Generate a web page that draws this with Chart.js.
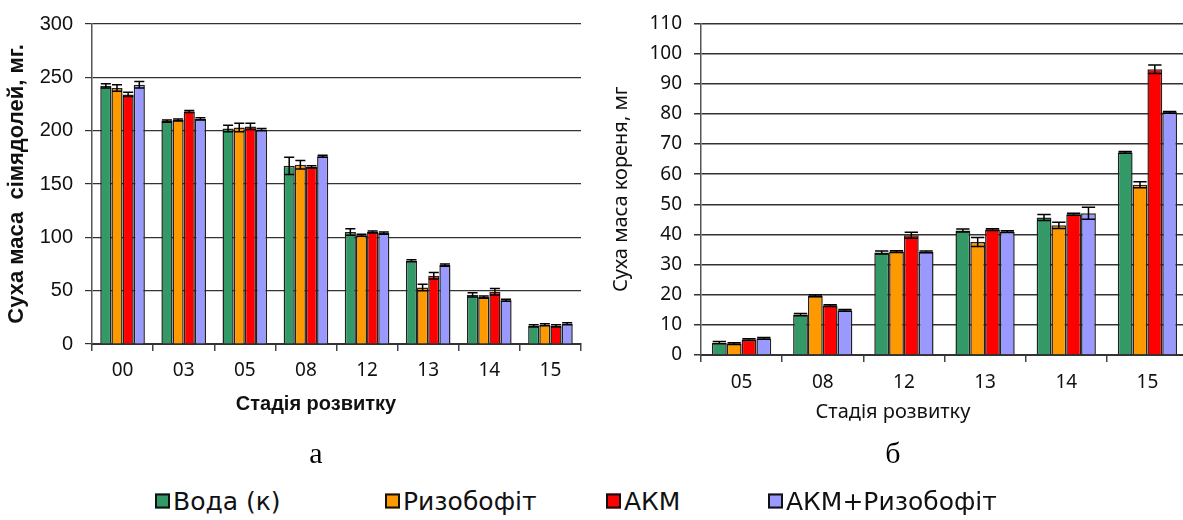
<!DOCTYPE html>
<html>
<head>
<meta charset="utf-8">
<script src="https://cdn.jsdelivr.net/npm/chart.js@4.4.0/dist/chart.umd.min.js"></script>
<style>
  html, body { margin: 0; padding: 0; background: #fff; overflow: hidden; }
  body { width: 1183px; height: 520px; position: relative; }
  #wrapA { position: absolute; left: 0; top: 0; width: 600px; height: 420px; }
  #wrapB { position: absolute; left: 600px; top: 0; width: 600px; height: 430px; }
  .lbl { position: absolute; color: #111; transform: translate(-50%, -50%); white-space: nowrap; line-height: 1; }
  .sub { font-family: "Liberation Serif", "DejaVu Serif", serif; font-size: 30px; color: #000; }
  #legend { position: absolute; top: 501px; left: 0; width: 1183px; font-family: "DejaVu Sans", sans-serif; font-size: 25px; color: #111; }
  .item { position: absolute; top: 0; display: flex; align-items: center; white-space: nowrap; transform: translateY(-50%); line-height: 1; }
  .sw { width: 11px; height: 11px; border: 2px solid #111; margin-right: 3px; }
</style>
</head>
<body>
<div id="wrapA"><canvas id="chartA"></canvas></div>
<div id="wrapB"><canvas id="chartB"></canvas></div>
<div class="lbl" style="left:316px; top:403px; font-family:'Liberation Sans',Arial,sans-serif; font-weight:bold; font-size:20px;">Стадія розвитку</div>
<div class="lbl" style="left:893px; top:411px; font-family:'Noto Sans',sans-serif; font-size:20px;">Стадія розвитку</div>
<div class="lbl sub" style="left:316px; top:453px;">а</div>
<div class="lbl sub" style="left:893px; top:453px;">б</div>
<div id="legend"></div>
<script>
// Series names and colours
const seriesNames = ["Вода (к)", "Ризобофіт", "АКМ", "АКМ+Ризобофіт"];
const seriesColors = ["#339966", "#FF9900", "#FF0000", "#9999FF"];

// Chart а: dry mass of cotyledons
const stagesA = ["00", "03", "05", "08", "12", "13", "14", "15"];
const vodaA   = [242, 209, 202, 167, 105, 78, 46, 17];
const rizoA   = [240, 210, 203, 168, 102, 53, 44, 18];
const akmA    = [234, 218, 204, 166, 105, 64, 49, 17];
const akmRizA = [243, 211, 201, 176, 104, 74, 41, 19];
const errVodaA   = [2, 1, 3, 8, 3, 1, 2, 1];
const errRizoA   = [3, 1, 4, 4, 1, 3, 1, 1];
const errAkmA    = [2, 1, 3, 1, 1, 3, 3, 1];
const errAkmRizA = [3, 1, 1, 1, 1, 1, 1, 1];
const ticksA = [0, 50, 100, 150, 200, 250, 300];

// Chart б: dry mass of root
const stagesB = ["05", "08", "12", "13", "14", "15"];
const vodaB   = [4.1, 13.4, 34.0, 41.3, 45.6, 67.2];
const rizoB   = [3.8, 19.6, 34.3, 37.5, 43.0, 56.5];
const akmB    = [5.1, 16.4, 39.7, 41.6, 46.7, 94.8];
const akmRizB = [5.5, 14.8, 34.2, 40.9, 47.0, 80.5];
const errVodaB   = [0.4, 0.4, 0.5, 0.5, 1.0, 0.3];
const errRizoB   = [0.3, 0.3, 0.3, 1.5, 1.0, 1.0];
const errAkmB    = [0.3, 0.3, 1.0, 0.3, 0.3, 1.4];
const errAkmRizB = [0.3, 0.3, 0.3, 0.3, 2.0, 0.3];
const ticksB = [0, 10, 20, 30, 40, 50, 60, 70, 80, 90, 100, 110];

// Legend
const legend = document.getElementById("legend");
const legendX = [155, 385, 606, 768];
seriesNames.forEach((n, i) => {
  const d = document.createElement("div");
  d.className = "item";
  d.style.left = legendX[i] + "px";
  d.innerHTML = '<span class="sw" style="background:' + seriesColors[i] + '"></span><span>' + n + '</span>';
  legend.appendChild(d);
});

// Draws symmetric error bars with caps over each bar
const errorBars = {
  id: "errorBars",
  afterDatasetsDraw(chart) {
    const ctx = chart.ctx;
    const y = chart.scales.y;
    ctx.save();
    ctx.strokeStyle = "#000";
    ctx.lineWidth = 1.5;
    chart.data.datasets.forEach((ds, di) => {
      const meta = chart.getDatasetMeta(di);
      meta.data.forEach((bar, i) => {
        const v = ds.data[i], e = ds.errors[i];
        const yt = y.getPixelForValue(v + e);
        const yb = y.getPixelForValue(v - e);
        const half = bar.width * 0.45;
        ctx.beginPath();
        ctx.moveTo(bar.x, yt); ctx.lineTo(bar.x, yb);
        ctx.moveTo(bar.x - half, yt); ctx.lineTo(bar.x + half, yt);
        ctx.moveTo(bar.x - half, yb); ctx.lineTo(bar.x + half, yb);
        ctx.stroke();
      });
    });
    ctx.restore();
  }
};

function makeSets(vals, errs) {
  return vals.map((v, i) => ({
    label: seriesNames[i],
    data: v,
    errors: errs[i],
    backgroundColor: seriesColors[i],
    borderColor: "#222",
    borderWidth: 1.5,
    borderSkipped: "bottom",
    categoryPercentage: 0.73,
    barPercentage: 1.0
  }));
}

function build(canvasId, labels, sets, yTicks, yMax, cfg) {
  return new Chart(document.getElementById(canvasId), {
    type: "bar",
    data: { labels: labels, datasets: sets },
    options: {
      responsive: true,
      maintainAspectRatio: false,
      animation: false,
      layout: { padding: cfg.padding },
      plugins: { legend: { display: false }, tooltip: { enabled: false } },
      scales: {
        x: {
          grid: { drawOnChartArea: false, drawTicks: true, tickLength: 7, color: "#444", lineWidth: 1.5 },
          border: { color: "#333", width: 2 },
          ticks: { color: "#111", font: cfg.xTickFont, padding: cfg.xTickPad, maxRotation: 0 },
          afterFit(s) { s.height = cfg.xHeight; }
        },
        y: {
          min: 0, max: yMax,
          afterBuildTicks(s) { s.ticks = yTicks.map(v => ({ value: v })); },
          grid: { color: cfg.gridColor, lineWidth: cfg.gridWidth, tickLength: 7, drawTicks: true },
          border: { color: "#555", width: 1.5 },
          ticks: { color: "#111", font: cfg.yTickFont, padding: 12 },
          title: { display: true, text: cfg.yTitle, color: "#111", font: cfg.yTitleFont, padding: { top: cfg.yTitlePad, bottom: 0 } },
          afterFit(s) { s.width = cfg.yWidth; }
        }
      }
    },
    plugins: [errorBars]
  });
}

build("chartA", stagesA,
  makeSets([vodaA, rizoA, akmA, akmRizA], [errVodaA, errRizoA, errAkmA, errAkmRizA]),
  ticksA, 300, {
    padding: { top: 24, right: 19, left: 0, bottom: 0 },
    xHeight: 76, yWidth: 92,
    gridColor: "#333", gridWidth: 1.2,
    xTickFont: { family: "Noto Sans", size: 19 },
    xTickPad: 8,
    yTickFont: { family: "Liberation Sans", size: 20 },
    yTitle: "Суха маса  сімядолей, мг.",
    yTitleFont: { family: "Liberation Sans", size: 22, weight: "bold" },
    yTitlePad: 4
  });

build("chartB", stagesB,
  makeSets([vodaB, rizoB, akmB, akmRizB], [errVodaB, errRizoB, errAkmB, errAkmRizB]),
  ticksB, 110, {
    padding: { top: 17, right: 12, left: 0, bottom: 0 },
    xHeight: 75, yWidth: 101,
    gridColor: "#333", gridWidth: 1.5,
    xTickFont: { family: "Noto Sans", size: 19 },
    xTickPad: 9,
    yTickFont: { family: "Noto Sans", size: 19 },
    yTitle: "Суха маса кореня, мг",
    yTitleFont: { family: "Noto Sans", size: 20 },
    yTitlePad: 9
  });
</script>
</body>
</html>
